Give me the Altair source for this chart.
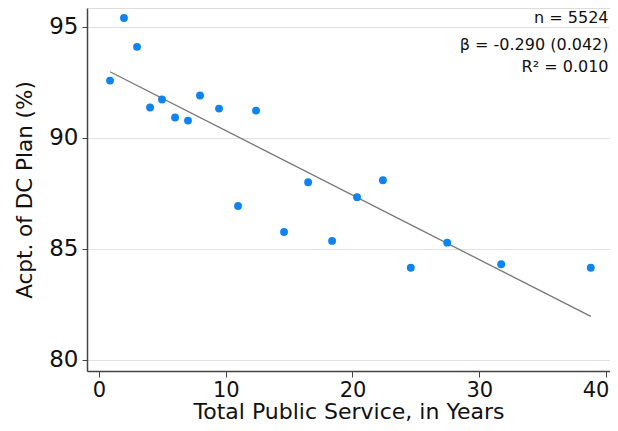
import altair as alt
import pandas as pd

years = [0.87, 1.97, 3.0, 4.03, 4.97, 6.0, 7.02, 7.97, 9.47, 10.97, 12.39,
         14.6, 16.5, 18.39, 20.36, 22.4, 24.6, 27.47, 31.73, 38.8]
accept = [92.58, 95.40, 94.10, 91.37, 91.73, 90.92, 90.78, 91.91, 91.32, 86.93, 91.23,
          85.76, 88.0, 85.36, 87.33, 88.09, 84.15, 85.28, 84.31, 84.15]

fit_x = [0.87, 38.8]
fit_y = [92.98, 81.96]

notes = ["n = 5524", "β = -0.290 (0.042)", "R² = 0.010"]
note_x = [40.2, 40.2, 40.2]
note_y = [95.40, 94.19, 93.21]

x_ticks = [0, 10, 20, 30, 40]
y_ticks = [80, 85, 90, 95]

FONT = "DejaVu Sans"

pts = pd.DataFrame({"x": years, "y": accept})
fit = pd.DataFrame({"x": fit_x, "y": fit_y})
ann = pd.DataFrame({"label": notes, "x": note_x, "y": note_y})

xs = alt.Scale(domain=[-0.947, 40.316], nice=False, zero=False)
ys = alt.Scale(domain=[79.5, 95.85], nice=False, zero=False)

xax = alt.Axis(values=x_ticks, title="Total Public Service, in Years", grid=False,
               labelFontSize=21, titleFontSize=22, labelFont=FONT, titleFont=FONT,
               labelColor="#111", titleColor="#111", titleFontWeight="normal",
               domainColor="#444", domainWidth=1.5, tickColor="#444", tickSize=6,
               labelPadding=2, labelFlush=6, labelFlushOffset=3, labelOverlap=False,
               titleBaseline="alphabetic", titleY=47)
yax = alt.Axis(values=y_ticks, title="Acpt. of DC Plan (%)", grid=True, gridColor="#e3e3e3",
               gridWidth=1.2,
               labelFontSize=23, titleFontSize=21.5, labelFont=FONT, titleFont=FONT,
               labelColor="#111", titleColor="#111", titleFontWeight="normal",
               domainColor="#444", domainWidth=1.5, tickColor="#444", tickSize=5,
               labelPadding=4, titlePadding=12)

points = alt.Chart(pts).mark_circle(size=62, opacity=1, color="#0d84f2").encode(
    x=alt.X("x:Q", scale=xs, axis=xax),
    y=alt.Y("y:Q", scale=ys, axis=yax),
)

line = alt.Chart(fit).mark_line(color="#777777", strokeWidth=1.3).encode(
    x=alt.X("x:Q", scale=xs),
    y=alt.Y("y:Q", scale=ys),
)

text = alt.Chart(ann).mark_text(align="right", baseline="middle", fontSize=16,
                                font=FONT, color="#111").encode(
    x=alt.X("x:Q", scale=xs),
    y=alt.Y("y:Q", scale=ys),
    text="label:N",
)

chart = alt.layer(line, points, text).properties(
    width=523, height=363,
    autosize=alt.AutoSizeParams(type="none"),
    padding={"left": 79, "top": 0, "right": 0, "bottom": 52},
).configure_view(stroke=None).configure(background="white")

chart.save("out.html", embed_options={"renderer": "svg", "actions": False})
